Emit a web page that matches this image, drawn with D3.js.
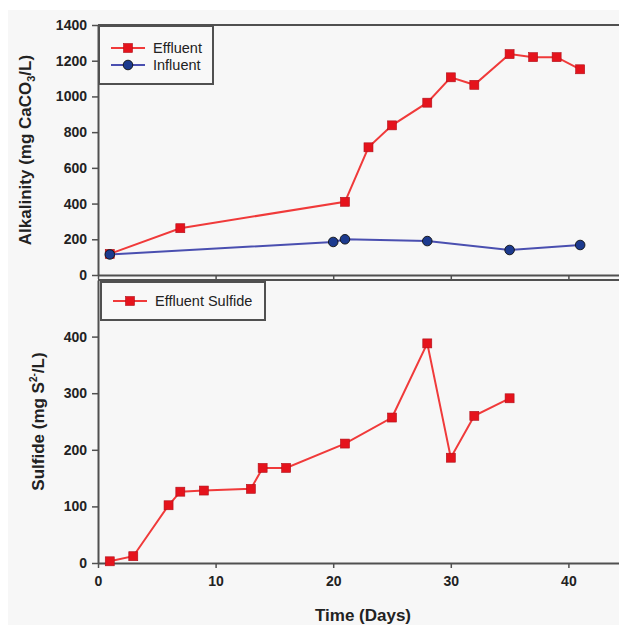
<!DOCTYPE html>
<html>
<head>
<meta charset="utf-8">
<script src="https://cdn.jsdelivr.net/npm/d3@7"></script>
<style>
  body { margin: 0; background: #fff; }
  text { font-family: "Liberation Sans", Arial, sans-serif; }
</style>
</head>
<body>
<div id="chart"></div>
<script>
// Alkalinity (top panel)
var effluentDays = [1, 7, 21, 23, 25, 28, 30, 32, 35, 37, 39, 41];
var effluentAlk  = [118, 262, 410, 715, 838, 965, 1107, 1065, 1237, 1220, 1220, 1152];
var influentDays = [1, 20, 21, 28, 35, 41];
var influentAlk  = [115, 185, 200, 190, 140, 168];

// Sulfide (bottom panel)
var sulfideDays = [1, 3, 6, 7, 9, 13, 14, 16, 21, 25, 28, 30, 32, 35];
var sulfideVals = [3, 12, 102, 126, 128, 131, 168, 168, 211, 257, 388, 186, 260, 291];

var xTicks = [0, 10, 20, 30, 40];
var alkTicks = [0, 200, 400, 600, 800, 1000, 1200, 1400];
var sulTicks = [0, 100, 200, 300, 400];

var W = 619, H = 625;
var red = "#f03a3a", redMark = "#e5131c";
var blue = "#4a4fb0", blueMark = "#1c3a8e";
var frame = "#505050";

var svg = d3.select("#chart").append("svg")
    .attr("width", W)
    .attr("height", H);

// faint grey page
svg.append("rect")
    .attr("x", 8).attr("y", 10)
    .attr("width", W - 8).attr("height", H - 10)
    .attr("fill", "#f7f7f7");

var x = d3.scaleLinear().domain([0, 45]).range([98, 627.2]);
var yTop = d3.scaleLinear().domain([0, 1400]).range([275, 25]);
var yBot = d3.scaleLinear().domain([0, 500]).range([563, 280]);

function styleAxis(g) {
    g.select(".domain").attr("stroke", frame).attr("stroke-width", 2);
    g.selectAll(".tick line").attr("stroke", frame).attr("stroke-width", 1.5);
    g.selectAll(".tick text")
        .attr("fill", "#222")
        .style("font-size", "14px")
        .style("font-weight", "bold");
}

// ---- top panel ----
svg.append("g")
    .attr("transform", "translate(98,0)")
    .call(d3.axisLeft(yTop).tickValues(alkTicks).tickFormat(d3.format("d"))
        .tickSize(6).tickPadding(5).tickSizeOuter(0))
    .call(styleAxis);

svg.append("g")
    .attr("transform", "translate(0,275)")
    .call(d3.axisBottom(x).tickValues(xTicks).tickSize(4).tickFormat("").tickSizeOuter(0))
    .call(styleAxis);

// top frame line
svg.append("line")
    .attr("x1", 98).attr("x2", x(45))
    .attr("y1", yTop(1400)).attr("y2", yTop(1400))
    .attr("stroke", frame).attr("stroke-width", 2);

svg.append("text")
    .attr("transform", "translate(31," + yTop(700) + ") rotate(-90)")
    .attr("text-anchor", "middle")
    .style("font-size", "17px")
    .style("font-weight", "bold")
    .attr("fill", "#222")
    .html('Alkalinity (mg CaCO<tspan dy="4" font-size="11px">3</tspan><tspan dy="-4">/L)</tspan>');

var line = d3.line();

function drawSeries(days, vals, yScale, color, markColor, shape) {
    var pts = days.map(function(d, i) { return [x(d), yScale(vals[i])]; });
    svg.append("path")
        .attr("d", line(pts))
        .attr("fill", "none")
        .attr("stroke", color)
        .attr("stroke-width", 2);
    var g = svg.append("g");
    if (shape === "square") {
        g.selectAll("rect").data(pts).enter().append("rect")
            .attr("x", function(p) { return p[0] - 4.5; })
            .attr("y", function(p) { return p[1] - 4.5; })
            .attr("width", 9).attr("height", 9)
            .attr("fill", markColor)
            .attr("stroke", "#b0101a").attr("stroke-width", 0.6);
    } else {
        g.selectAll("circle").data(pts).enter().append("circle")
            .attr("cx", function(p) { return p[0]; })
            .attr("cy", function(p) { return p[1]; })
            .attr("r", 4.8)
            .attr("fill", markColor)
            .attr("stroke", "#111").attr("stroke-width", 0.9);
    }
}

drawSeries(effluentDays, effluentAlk, yTop, red, redMark, "square");
drawSeries(influentDays, influentAlk, yTop, blue, blueMark, "circle");

function legendBox(x0, y0, w, h, entries) {
    var g = svg.append("g");
    g.append("rect")
        .attr("x", x0).attr("y", y0).attr("width", w).attr("height", h)
        .attr("fill", "#f8f8f8")
        .attr("stroke", frame).attr("stroke-width", 2);
    entries.forEach(function(e, i) {
        var cy = y0 + 22 + i * 17;
        if (entries.length === 1) cy = y0 + h / 2;
        g.append("line")
            .attr("x1", x0 + 12).attr("x2", x0 + 46)
            .attr("y1", cy).attr("y2", cy)
            .attr("stroke", e.color).attr("stroke-width", 2);
        if (e.shape === "square") {
            g.append("rect")
                .attr("x", x0 + 29 - 4.5).attr("y", cy - 4.5)
                .attr("width", 9).attr("height", 9)
                .attr("fill", e.mark).attr("stroke", "#b0101a").attr("stroke-width", 0.6);
        } else {
            g.append("circle")
                .attr("cx", x0 + 29).attr("cy", cy).attr("r", 4.8)
                .attr("fill", e.mark).attr("stroke", "#111").attr("stroke-width", 0.9);
        }
        g.append("text")
            .attr("x", x0 + 54).attr("y", cy + 5)
            .style("font-size", "14.5px")
            .attr("fill", "#222")
            .text(e.label);
    });
}

legendBox(99, 26, 114, 58, [
    {label: "Effluent", color: red, mark: redMark, shape: "square"},
    {label: "Influent", color: blue, mark: blueMark, shape: "circle"}
]);

// ---- bottom panel ----
svg.append("line")
    .attr("x1", 98).attr("x2", x(45))
    .attr("y1", 280).attr("y2", 280)
    .attr("stroke", frame).attr("stroke-width", 2);

svg.append("g")
    .attr("transform", "translate(98,0)")
    .call(d3.axisLeft(yBot).tickValues(sulTicks).tickSize(6).tickPadding(5).tickSizeOuter(0))
    .call(styleAxis);

svg.append("g")
    .attr("transform", "translate(0,563)")
    .call(d3.axisBottom(x).tickValues(xTicks).tickSize(5).tickPadding(8).tickSizeOuter(0))
    .call(styleAxis);

svg.append("text")
    .attr("transform", "translate(44," + yBot(250) + ") rotate(-90)")
    .attr("text-anchor", "middle")
    .style("font-size", "17px")
    .style("font-weight", "bold")
    .attr("fill", "#222")
    .html('Sulfide (mg S<tspan dy="-7" font-size="10px">2-</tspan><tspan dy="7">/L)</tspan>');

svg.append("text")
    .attr("x", 363).attr("y", 621)
    .attr("text-anchor", "middle")
    .style("font-size", "17px")
    .style("font-weight", "bold")
    .attr("fill", "#222")
    .text("Time (Days)");

drawSeries(sulfideDays, sulfideVals, yBot, red, redMark, "square");

legendBox(101, 282, 164, 38, [
    {label: "Effluent Sulfide", color: red, mark: redMark, shape: "square"}
]);
</script>
</body>
</html>
